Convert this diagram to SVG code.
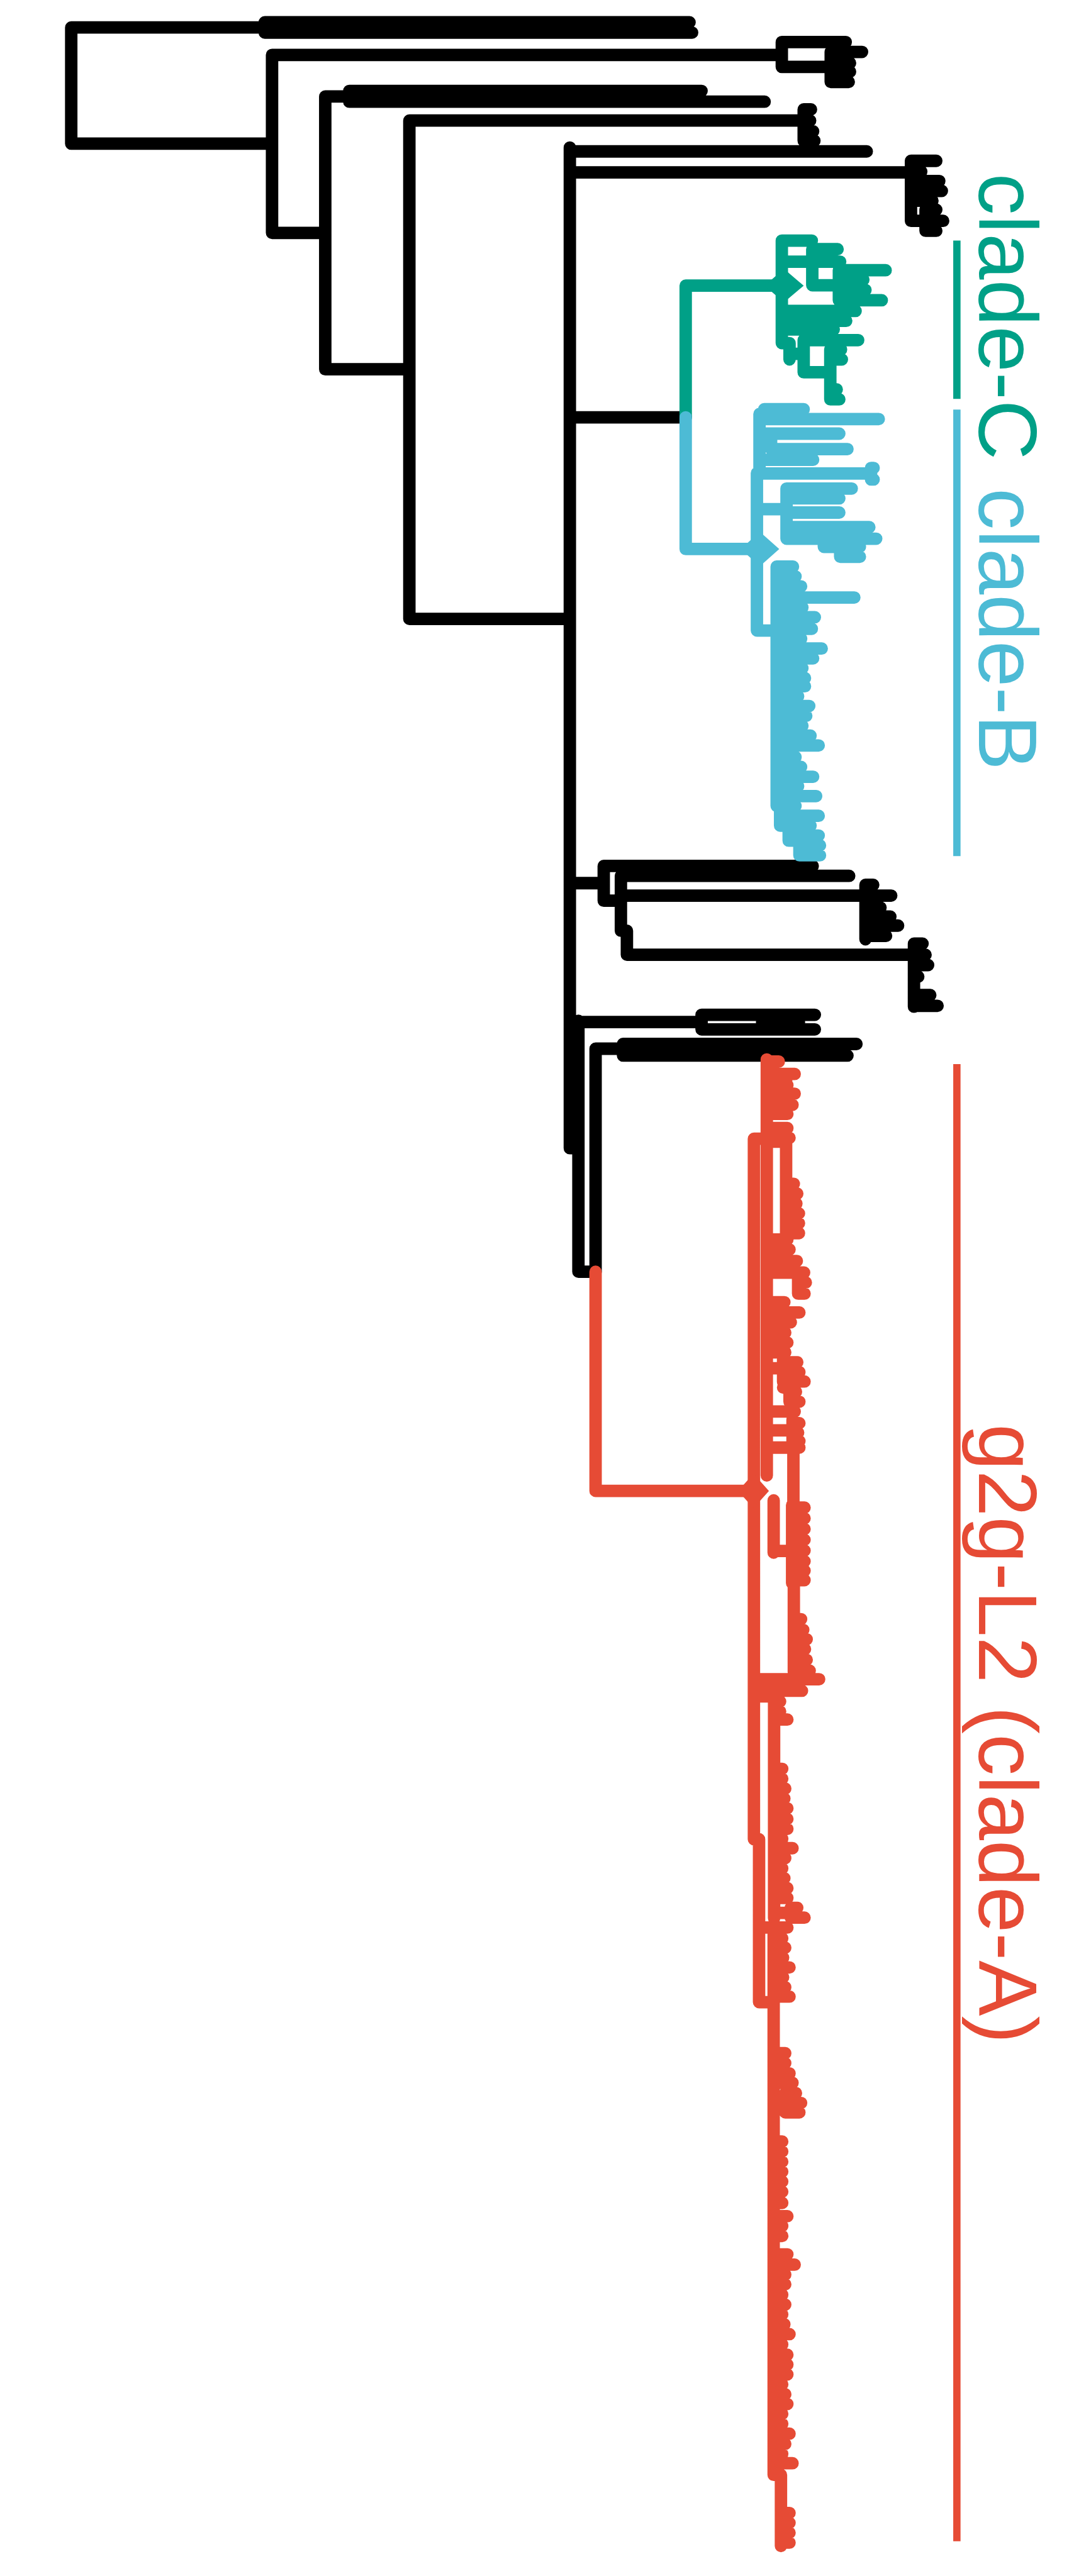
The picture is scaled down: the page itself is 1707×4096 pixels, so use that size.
<svg xmlns="http://www.w3.org/2000/svg" width="1707" height="4096" viewBox="0 0 1707 4096">
<style>
.br{fill:none;stroke-width:29;stroke-linecap:round;stroke-linejoin:round}
.k{stroke:#000000}.gc{stroke:#00A087}.bc{stroke:#4DBBD5}.rc{stroke:#E64B35}
.bar{stroke-width:17;stroke-linecap:butt;fill:none}
.lbl{font-family:"Liberation Sans",Arial,sans-serif;font-size:194px}
</style>
<rect width="1707" height="4096" fill="#ffffff"/>
<g transform="scale(0.682)">
<g id="connectors">
<g id="backbone">
<path class="br k" d="M166 64V335M166 64H617M617 52V76M617 52H1607M617 76H1613M166 335H634
M634 128V543M634 128H1822M1822 98V156M1822 98H1971M1822 156H1936M1936 121V191M1936 121H2009M1936 147H1981M1936 167H1981M1936 191H1978
M634 543H758M758 225V861M758 225H814M814 212V237M814 212H1635M814 237H1782M758 861H954
M954 281V1443M954 281H1873M1873 255V328M1873 255H1890M1873 281H1888M1873 306H1895M1873 328H1898M954 1443H1328
M1328 344V2677M1328 353H2020M1328 402H2123M2123 375V515M2123 375H2182M2123 400H2147M2123 422H2189M2123 445H2195M2123 468H2173M2123 515H2157M2157 489V538M2157 489H2182M2157 515H2198M2157 538H2182
M1328 973H1598
M1328 2059H1407M1407 2019V2100M1407 2019H1894M1407 2100H1447M1447 2042V2170M1447 2042H1979M1447 2088H2017M2017 2063V2190M2017 2063H2035M2017 2088H2077M2017 2116H2052M2017 2137H2075M2017 2158H2093M2017 2182H2065
M1447 2170H1461M1461 2170V2226M1461 2226H2130M2130 2200V2347M2130 2200H2150M2130 2226H2157M2130 2250H2163M2130 2277H2140M2130 2320H2168M2130 2345H2185
M1328 2677H1348M1348 2380V2965M1348 2383H1635M1635 2366V2400M1635 2366H1899M1635 2400H1899M1776 2383H1862
M1348 2965H1388M1388 2445V2965M1388 2445H1452M1452 2434V2461M1452 2434H1996M1452 2461H1975"/>
</g>
<g id="clade-C-branches">
<path class="br gc" d="M1598 666V973M1598 666H1825M1822 561V800M1822 561H1892M1822 610H1893M1893 581V665M1893 581H1952M1893 610H1958M1893 665H1955M1955 630V700M1955 630H2064M1955 652H2012M1955 676H2017M1955 700H2055
M1822 725H1994M1822 748H1972M1822 768H1943M1822 800H1840M1840 800V838M1840 825H1873M1873 793V868M1873 793H2000M1873 868H1935M1935 815V931M1935 815H1960M1935 838H1962M1935 908H1950M1935 931H1956"/>
</g>
<g id="clade-B-branches">
<path class="br bc" d="M1598 973V1280M1598 1280H1766M1764 1103V1470M1770 965V1103M1781 954V977M1781 954H1873M1770 977H2048M1797 1011V1047M1770 1011H1956M1797 1047H1975M1770 1072H1895M1770 1104H2030M2030 1091V1118M2030 1091H2036M2030 1118H2036
M1764 1187H1833M1833 1139V1256M1833 1139H1985M1833 1162H1956M1833 1195H1956M1833 1229H1920M1920 1229V1275M1920 1229H2026M1833 1256H2042M1920 1275H1958M1958 1275V1298M1958 1275H2004M1958 1298H2004
M1764 1470H1810M1810 1321V1879
M1810 1321H1848M1810 1344H1854M1810 1367H1867M1810 1393H1991M1810 1416H1870M1810 1439H1899M1810 1466H1892M1810 1489H1867M1810 1512H1915M1810 1535H1895M1810 1558H1870M1810 1581H1876M1810 1600H1876M1810 1623H1860M1810 1646H1886M1810 1669H1879M1810 1692H1870M1810 1715H1889M1810 1738H1908M1810 1765H1854M1810 1788H1867M1810 1811H1895M1810 1833H1860M1810 1856H1902M1810 1879H1854
M1810 1879H1818M1818 1879V1925M1818 1902H1908M1818 1925H1889M1818 1925H1838M1838 1925V1960M1838 1948H1908M1838 1960H1863M1863 1960V1994M1863 1971H1911M1863 1994H1911"/>
</g>
<g id="clade-A-branches">
<path class="br rc" d="M1388 2965V3476M1388 3476H1757M1787 2470V3440M1757 2655V4288M1757 2655H1787
M1787 2475H1815M1787 2504H1852M1787 2530H1835M1787 2550H1852M1787 2576H1847M1787 2597H1835M1787 2630H1835M1787 2653H1840M1832 2504V2576
M1787 2662H1832M1832 2662V2875M1832 2760H1850M1832 2783H1858M1832 2806H1856M1832 2829H1862M1832 2852H1862M1832 2875H1862
M1787 2890H1835M1787 2913H1840M1787 2940H1857M1787 2967H1860M1860 2967V3016M1860 2967H1874M1860 2990H1878M1860 3016H1875
M1787 3036H1828M1787 3060H1863M1787 3083H1843M1787 3107H1830M1787 3130H1835M1787 3153H1830
M1787 3190H1825M1825 3169V3222M1825 3176H1858M1825 3199H1863M1825 3221H1875M1825 3235H1840M1840 3235V3268M1840 3245H1855M1840 3268H1863
M1787 3291H1852M1787 3335H1847M1847 3310V3360M1847 3318H1863M1847 3340H1860M1847 3360H1863
M1787 3375H1849M1849 3375V3509M1849 3375H1863M1846 3509V3691M1850 3691V3898
M1846 3515H1875M1846 3540H1875M1846 3565H1875M1846 3590H1875M1846 3615H1875M1846 3640H1875M1846 3662H1875M1846 3684H1875
M1850 3775H1867M1850 3800H1872M1850 3822H1880M1850 3845H1876M1850 3870H1880M1850 3895H1887
M1803 3498V3620M1803 3616H1846
M1757 3915H1909M1757 3942H1869M1757 3955H1804M1804 3955V4472
M1804 3967H1818M1804 3990H1818M1804 4009H1835M1804 4124H1823M1804 4147H1823M1804 4170H1830M1804 4193H1828M1804 4216H1835M1804 4241H1835M1804 4264H1835M1804 4287H1823M1804 4309H1847M1804 4332H1830M1804 4356H1823M1804 4379H1828M1804 4402H1835M1804 4425H1835
M1804 4460H1843M1843 4448V4471M1843 4448H1858M1843 4471H1875
M1757 4288H1769M1769 4288V4668M1769 4494H1835M1769 4668H1803M1803 4509V5770
M1803 4519H1823M1803 4541H1830M1803 4564H1825M1803 4587H1840M1803 4610H1825M1803 4633H1830M1803 4655H1840
M1803 4787H1830M1803 4810H1830M1803 4834H1840M1803 4856H1847M1803 4900H1830M1830 4880V4925M1830 4880H1855M1830 4903H1867M1830 4925H1863
M1803 4993H1823M1803 5016H1823M1803 5040H1823M1803 5063H1823M1803 5086H1823M1803 5110H1823M1803 5136H1823
M1803 5167H1835M1803 5190H1823M1803 5213H1823M1803 5256H1835M1803 5280H1852M1803 5303H1830M1803 5326H1830M1803 5350H1823M1803 5373H1830M1803 5396H1823
M1803 5419H1828M1803 5442H1840M1803 5466H1823M1803 5490H1835M1803 5513H1835M1803 5536H1835M1803 5559H1823M1803 5582H1830M1803 5605H1835M1803 5628H1823M1803 5651H1823M1803 5674H1840M1803 5698H1830M1803 5721H1823M1803 5743H1847
M1803 5770H1820M1820 5770V5936M1820 5859H1840M1820 5882H1840M1820 5905H1840M1820 5928H1840"/>
</g>
</g>
<g id="node-clade-C-root"><polygon points="1782,666 1827,627 1873,666 1827,705" fill="#00A087"/></g>
<g id="node-clade-B-root"><polygon points="1726,1280 1771,1240 1816,1280 1771,1320" fill="#4DBBD5"/></g>
<g id="node-clade-A-root"><polygon points="1720,3476 1756,3436 1792,3476 1756,3516" fill="#E64B35"/></g>
<g id="label-clade-C">
<line class="bar" x1="2230" y1="561" x2="2230" y2="930" stroke="#00A087"/>
<text class="lbl" fill="#00A087" transform="translate(2282,404) rotate(90)">clade-C</text>
</g>
<g id="label-clade-B">
<line class="bar" x1="2230" y1="955" x2="2230" y2="1996" stroke="#4DBBD5"/>
<text class="lbl" fill="#4DBBD5" transform="translate(2282,1138) rotate(90)">clade-B</text>
</g>
<g id="label-clade-A">
<line class="bar" x1="2230" y1="2481" x2="2230" y2="5925" stroke="#E64B35"/>
<text class="lbl" fill="#E64B35" transform="translate(2282,3320) rotate(90)">g2g-L2 (clade-A)</text>
</g>
</g>
</svg>
